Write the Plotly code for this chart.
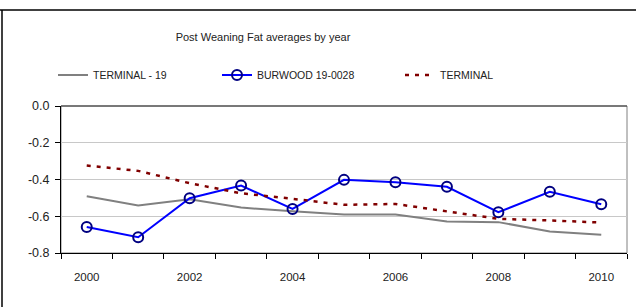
import plotly.graph_objects as go

years = list(range(2000, 2011))
terminal_19 = [-0.491, -0.542, -0.507, -0.553, -0.573, -0.591, -0.591, -0.629, -0.632, -0.683, -0.701]
burwood = [-0.659, -0.714, -0.502, -0.433, -0.560, -0.402, -0.415, -0.440, -0.578, -0.467, -0.535]
terminal = [-0.324, -0.353, -0.420, -0.475, -0.505, -0.538, -0.533, -0.574, -0.614, -0.623, -0.634]

x_tick_vals = [2000, 2002, 2004, 2006, 2008, 2010]
x_tick_text = ["2000", "2002", "2004", "2006", "2008", "2010"]
y_tick_vals = [0.0, -0.2, -0.4, -0.6, -0.8]
y_tick_text = ["0.0", "-0.2", "-0.4", "-0.6", "-0.8"]

FONT = "Liberation Sans Narrow, Arial Narrow, Liberation Sans, Arial, sans-serif"
W, H = 636, 307

fig = go.Figure()
fig.add_trace(go.Scatter(
    x=years, y=terminal_19, name="TERMINAL - 19", mode="lines",
    line=dict(color="#808080", width=2), legend="legend", showlegend=True))
fig.add_trace(go.Scatter(
    x=years, y=burwood, name="BURWOOD 19-0028", mode="lines+markers",
    line=dict(color="#0000FF", width=2),
    marker=dict(symbol="circle-open", size=10, color="#000080", line=dict(width=2, color="#000080")),
    legend="legend2", showlegend=True))
fig.add_trace(go.Scatter(
    x=years, y=terminal, name="TERMINAL", mode="lines",
    line=dict(color="#800000", width=2.5, dash="4px,6px"), legend="legend3", showlegend=True))

leg_common = dict(orientation="h", xref="container", yref="container", yanchor="middle",
                  font=dict(family=FONT, size=10.5, color="#222"), bgcolor="rgba(0,0,0,0)")
fig.update_layout(
    width=W, height=H, showlegend=True,
    margin=dict(l=61, r=9, t=106, b=54, autoexpand=False),
    paper_bgcolor="white", plot_bgcolor="white",
    font=dict(family=FONT, size=12, color="#222"),
    title=dict(text="Post Weaning Fat averages by year", x=263 / W, xanchor="center",
               y=1 - 37 / H, yanchor="middle", xref="container", yref="container",
               font=dict(family=FONT, size=11, color="#222")),
    legend=dict(x=53 / W, y=1 - 75 / H, xanchor="left", **leg_common),
    legend2=dict(x=217 / W, y=1 - 75 / H, xanchor="left", **leg_common),
    legend3=dict(x=400 / W, y=1 - 75 / H, xanchor="left", **leg_common),
    xaxis=dict(range=[1999.5, 2010.5], tickvals=x_tick_vals, ticktext=x_tick_text,
               ticks="outside", ticklen=13, tickcolor="rgba(0,0,0,0)",
               showgrid=False, zeroline=False,
               showline=True, linecolor="black", linewidth=1,
               tickfont=dict(family=FONT, size=11.5, color="#222"),
               minor=dict(tick0=1999.5, dtick=1, ticks="outside", ticklen=5, tickcolor="black", showgrid=False)),
    yaxis=dict(range=[-0.8, 0.0], tickvals=y_tick_vals, ticktext=y_tick_text,
               ticks="outside", ticklen=5, tickcolor="black", ticklabelstandoff=3,
               showgrid=True, gridcolor="#c8c8c8", gridwidth=1, zeroline=False,
               showline=True, linecolor="black", linewidth=1,
               tickfont=dict(family=FONT, size=12.5, color="#222")),
    shapes=[
        dict(type="rect", xref="paper", yref="paper", x0=0, x1=1, y0=0, y1=1,
             line=dict(color="#808080", width=1), layer="below"),
        dict(type="line", xref="paper", yref="paper", x0=0, x1=1, y0=1, y1=1,
             line=dict(color="#333", width=1)),
        dict(type="line", xref="paper", yref="paper", x0=-61 / 566, x1=1.5, y0=1 + 96 / 147, y1=1 + 96 / 147,
             line=dict(color="black", width=1.5)),
        dict(type="line", xref="paper", yref="paper", x0=-59 / 566, x1=-59 / 566, y0=-1, y1=1 + 96 / 147,
             line=dict(color="black", width=1.5)),
    ],
)

fig.write_html("out.html", config={"displayModeBar": False},
               post_script="document.body.style.margin='0';")
